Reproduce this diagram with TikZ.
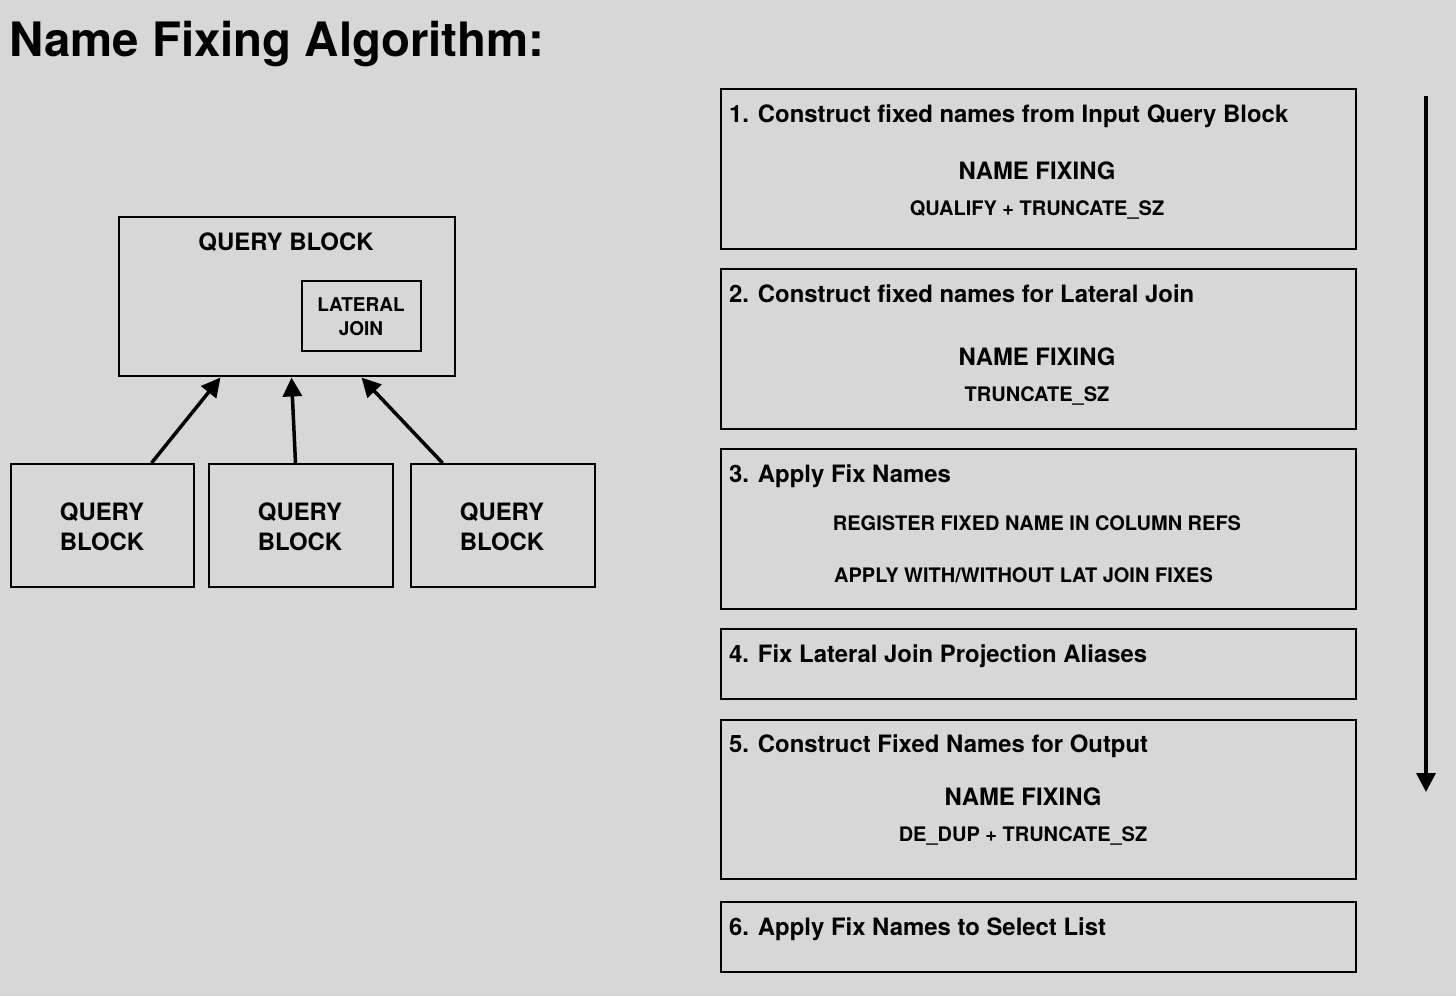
\documentclass[tikz,border=0pt]{standalone}
\usepackage{fontspec}
\setmainfont{TeX Gyre Heros}
\usetikzlibrary{arrows.meta}
\definecolor{bg}{RGB}{215,215,215}
\tikzset{
  box/.style={draw=black, line width=2pt, inner sep=0pt, anchor=north west},
  arr/.style={line width=3.5pt, -{Triangle[length=19pt,width=19pt]}},
  big/.style={inner sep=0pt, font=\bfseries\fontsize{23.9}{28}\selectfont},
  small/.style={inner sep=0pt, font=\bfseries\fontsize{20}{24}\selectfont},
  lat/.style={inner sep=0pt, font=\bfseries\fontsize{19}{24}\selectfont},
  ttl/.style={big, anchor=base west},
  ctr/.style={anchor=base},
}
\begin{document}
\begin{tikzpicture}[x=1pt,y=-1pt]
\fill[bg] (0,0) rectangle (1456,996);
\useasboundingbox (0,0) rectangle (1456,996);

% title
\node[inner sep=0pt, anchor=base west, font=\bfseries\fontsize{47.4}{56}\selectfont] (title) at (9,56) {Name Fixing Algorithm:};

% left diagram
\node[box, minimum width=336pt, minimum height=159pt] (qb) at (117.5,215.5) {};
\node[big, ctr] (qbt) at (286,250) {QUERY BLOCK};
\node[box, minimum width=119pt, minimum height=70pt] (lj) at (301,279.5) {};
\node[lat, ctr] (ljt1) at (361,311) {LATERAL};
\node[lat, ctr] (ljt2) at (361,335) {JOIN};

\node[box, minimum width=183pt, minimum height=123pt] (b1) at (9.5,463) {};
\node[box, minimum width=184pt, minimum height=123pt] (b2) at (207.5,463) {};
\node[box, minimum width=184pt, minimum height=123pt] (b3) at (409.5,463) {};
\node[big, ctr] (b1a) at (102,520) {QUERY};
\node[big, ctr] (b1b) at (102,550) {BLOCK};
\node[big, ctr] (b2a) at (300,520) {QUERY};
\node[big, ctr] (b2b) at (300,550) {BLOCK};
\node[big, ctr] (b3a) at (502,520) {QUERY};
\node[big, ctr] (b3b) at (502,550) {BLOCK};

\draw[arr] ([xshift=142pt]b1.north west) -- ([xshift=103pt,yshift=-1pt]qb.south west);
\draw[arr] ([xshift=88pt]b2.north west) -- ([xshift=174pt,yshift=-1pt]qb.south west);
\draw[arr] ([xshift=33pt]b3.north west) -- ([xshift=244pt,yshift=-1pt]qb.south west);

% right steps
\node[box, minimum width=635pt, minimum height=160pt] (s1) at (719.5,87.5) {};
\node[ttl] (s1t) at (729,122) {1. Construct fixed names from Input Query Block};
\node[big, ctr] (s1a) at (1037,179.5) {NAME FIXING};
\node[small, ctr] (s1b) at (1037,215) {QUALIFY + TRUNCATE\_SZ};

\node[box, minimum width=635pt, minimum height=160pt] (s2) at (719.5,267.5) {};
\node[ttl] (s2t) at (729,302) {2. Construct fixed names for Lateral Join};
\node[big, ctr] (s2a) at (1037,365.5) {NAME FIXING};
\node[small, ctr] (s2b) at (1037,401) {TRUNCATE\_SZ};

\node[box, minimum width=635pt, minimum height=160pt] (s3) at (719.5,447.5) {};
\node[ttl] (s3t) at (729,482) {3. Apply Fix Names};
\node[small, ctr] (s3a) at (1037,530.5) {REGISTER FIXED NAME IN COLUMN REFS};
\node[small, ctr] (s3b) at (1023.5,582) {APPLY WITH/WITHOUT LAT JOIN FIXES};

\node[box, minimum width=635pt, minimum height=70pt] (s4) at (719.5,627.5) {};
\node[ttl] (s4t) at (729,662) {4. Fix Lateral Join Projection Aliases};

\node[box, minimum width=635pt, minimum height=159pt] (s5) at (719.5,718.5) {};
\node[ttl] (s5t) at (729,752.5) {5. Construct Fixed Names for Output};
\node[big, ctr] (s5a) at (1023,805.5) {NAME FIXING};
\node[small, ctr] (s5b) at (1023,841) {DE\_DUP + TRUNCATE\_SZ};

\node[box, minimum width=635pt, minimum height=70pt] (s6) at (719.5,900.5) {};
\node[ttl] (s6t) at (729,935) {6. Apply Fix Names to Select List};

% flow arrow
\coordinate (fs) at (1426,96);
\coordinate (fe) at (1426,792);
\draw[arr] (fs) -- (fe);
\end{tikzpicture}
\end{document}
